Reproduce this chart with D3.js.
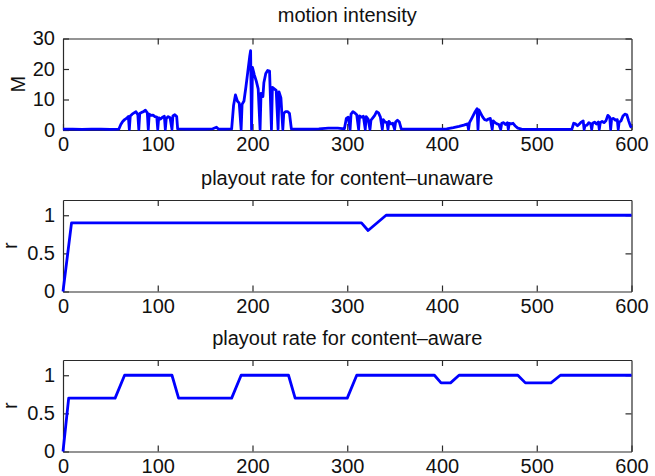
<!DOCTYPE html>
<html>
<head>
<meta charset="utf-8">
<script src="https://cdn.jsdelivr.net/npm/d3@7/dist/d3.min.js"></script>
<style>
  html, body { margin: 0; padding: 0; background: #fff; }
  svg text { font-family: "Liberation Sans", Arial, Helvetica, sans-serif; fill: #111; }
</style>
</head>
<body>
<svg id="chart" width="655" height="476"></svg>
<script>
// Shared time axis (seconds)
const timeTicks = [0, 100, 200, 300, 400, 500, 600];
const motionTicks = [0, 10, 20, 30];
const rateTicks = [0, 0.5, 1];

// Motion intensity M over time: [t, M]
const motion = [
  [0,0.3],[10,0.3],[20,0.2],[30,0.3],[40,0.3],[50,0.2],[59,0.3],
  [61,1.8],[63,2.8],[65,3.4],[67,3.8],[69,4.4],[70,0.2],[71,4.6],[73,5.2],[75,5.6],[77,6.0],[79,5.0],[80,0.2],
  [81,5.4],[83,5.8],[85,6.0],[87,6.5],[89,5.6],[90,0.2],[91,5.2],[93,4.8],[95,4.9],[97,4.4],[99,4.2],[100,0.2],
  [101,4.0],[103,3.6],[105,4.2],[107,4.5],[108,0.2],[109,3.8],[111,4.4],[113,4.0],[115,0.2],[116,4.6],[118,5.0],[120,4.4],[121,0.4],
  [130,0.3],[140,0.3],[150,0.3],[158,0.4],[162,0.9],[164,0.3],[170,0.3],[178,0.4],
  [180,8.0],[182,11.5],[184,9.5],[186,8.8],[188,0.2],[189,8.4],[191,9.5],[193,14.0],[195,19.0],[197,24.0],[198,26.0],[199,0.2],
  [200,20.5],[202,18.0],[204,16.0],[206,13.5],[208,0.2],[209,12.0],[211,11.0],[212,15.5],[214,18.5],[216,19.5],[218,19.3],[220,0.2],
  [221,14.0],[223,13.5],[225,13.0],[227,0.2],[228,12.5],[230,10.5],[232,0.2],[233,5.5],[235,6.0],[237,6.0],[239,5.5],[241,0.4],
  [250,0.3],[260,0.3],[270,0.4],[280,0.6],[290,0.6],[297,0.4],
  [299,3.8],[301,4.2],[303,0.2],[304,5.2],[306,6.0],[308,5.6],[310,5.0],[312,0.2],[313,4.6],[315,4.2],[317,4.5],[319,0.2],
  [320,4.4],[322,3.6],[324,0.2],[325,3.2],[327,4.0],[329,4.8],[331,6.0],[333,5.6],[335,4.2],[337,0.2],[338,3.4],[340,2.6],
  [342,2.4],[343,0.2],[344,2.8],[346,2.0],[348,2.2],[350,0.2],[351,2.6],[353,3.2],[355,2.6],[357,0.4],
  [365,0.3],[375,0.3],[385,0.3],[395,0.3],[405,0.4],[412,0.8],[418,1.2],[423,1.6],[427,2.0],[428,0.2],
  [429,2.4],[431,3.6],[433,4.8],[435,6.0],[437,7.0],[438,0.2],[439,6.6],[441,5.4],[443,4.2],[445,3.4],[447,3.2],[449,3.6],
  [451,3.8],[453,0.2],[454,3.0],[456,2.4],[458,2.0],[460,1.8],[462,0.2],[463,2.2],[465,2.4],[467,1.8],[469,2.4],[470,0.2],
  [471,2.2],[473,2.0],[475,2.2],[477,1.4],[480,0.6],[484,0.3],
  [495,0.2],[505,0.2],[515,0.2],[525,0.2],[537,0.2],
  [539,2.2],[541,2.0],[543,1.4],[545,2.0],[547,2.6],[549,3.0],[550,0.2],[551,1.4],[553,1.6],[555,2.4],[557,2.0],[558,0.2],
  [559,2.2],[561,2.6],[563,2.0],[565,2.6],[566,0.2],[567,2.4],[569,2.8],[571,2.4],[573,3.0],[575,4.8],[577,4.2],[578,0.2],
  [579,3.6],[581,3.8],[583,3.2],[585,3.4],[586,0.2],[587,2.6],[589,3.0],[591,4.6],[593,5.2],[595,5.0],[597,3.0],[599,1.2],[600,0.8]
];

// Playout rate, content-unaware scheme: [t, r]
const rateUnaware = [
  [0,0],[9,0.9],[315,0.9],[322,0.8],[341,1],[600,1]
];

// Playout rate, content-aware scheme: [t, r]
const rateAware = [
  [0,0],[6,0.7],[55,0.7],[65,1],[115,1],[122,0.7],[178,0.7],[188,1],[238,1],[245,0.7],
  [300,0.7],[310,1],[392,1],[399,0.9],[409,0.9],[418,1],[480,1],[488,0.9],[515,0.9],[525,1],[600,1]
];

const panels = [
  { title: "motion intensity", ylabel: "M", data: motion, yDomain: [0, 30], yTicks: motionTicks, top: 38.5, labelX: 25 },
  { title: "playout rate for content\u2013unaware", ylabel: "r", data: rateUnaware, yDomain: [0, 1.2], yTicks: rateTicks, top: 200, labelX: 17 },
  { title: "playout rate for content\u2013aware", ylabel: "r", data: rateAware, yDomain: [0, 1.2], yTicks: rateTicks, top: 360, labelX: 17 }
];

const svg = d3.select("#chart");
const left = 63, right = 631.5, panelH = 91.5;
const fontSize = 20, tickLen = 6;
const axisColor = "#2a2a2a";

const x = d3.scaleLinear().domain([0, 600]).range([left, right]);

panels.forEach((p, i) => {
  const y = d3.scaleLinear().domain(p.yDomain).range([p.top + panelH, p.top]);
  const g = svg.append("g");
  const fmt = d => String(d);

  // bottom axis with labels, ticks pointing inward
  g.append("g")
    .attr("transform", `translate(0,${p.top + panelH})`)
    .call(d3.axisBottom(x).tickValues(timeTicks).tickFormat(fmt)
      .tickSizeInner(-tickLen).tickSizeOuter(0).tickPadding(7));
  // top axis: ticks only
  g.append("g")
    .attr("transform", `translate(0,${p.top})`)
    .call(d3.axisTop(x).tickValues(timeTicks.slice(1, -1)).tickFormat("")
      .tickSizeInner(-tickLen).tickSizeOuter(0));
  // left axis with labels
  g.append("g")
    .attr("transform", `translate(${left},0)`)
    .call(d3.axisLeft(y).tickValues(p.yTicks).tickFormat(fmt)
      .tickSizeInner(-tickLen).tickSizeOuter(0).tickPadding(8));
  // right axis: ticks only
  g.append("g")
    .attr("transform", `translate(${right},0)`)
    .call(d3.axisRight(y).tickValues(p.yTicks.slice(1)).tickFormat("")
      .tickSizeInner(-tickLen).tickSizeOuter(0));

  g.selectAll(".domain").attr("stroke", axisColor).attr("stroke-width", 1.2);
  g.selectAll(".tick line").attr("stroke", axisColor).attr("stroke-width", 1.2);
  g.selectAll(".tick text")
    .attr("font-size", fontSize)
    .attr("font-family", "Liberation Sans, Arial, sans-serif")
    .attr("fill", "#111");

  // series line
  const line = d3.line().x(d => x(d[0])).y(d => y(d[1]));
  g.append("path")
    .datum(p.data)
    .attr("fill", "none")
    .attr("stroke", "#0000ff")
    .attr("stroke-width", 2.8)
    .attr("stroke-linejoin", "round")
    .attr("d", line);

  // title
  g.append("text")
    .attr("x", (left + right) / 2)
    .attr("y", p.top - (i === 0 ? 17 : 15))
    .attr("text-anchor", "middle")
    .attr("font-size", fontSize)
    .text(p.title);

  // y label
  g.append("text")
    .attr("transform", `translate(${p.labelX},${p.top + panelH / 2}) rotate(-90)`)
    .attr("text-anchor", "middle")
    .attr("font-size", fontSize)
    .text(p.ylabel);
});
</script>
</body>
</html>
